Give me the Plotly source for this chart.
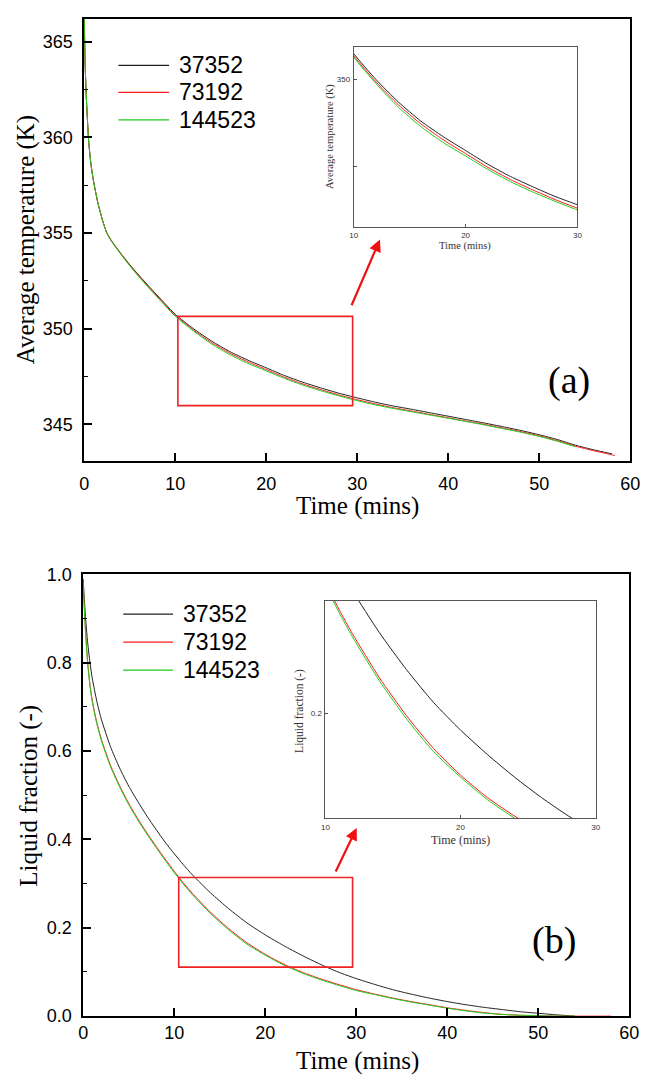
import plotly.graph_objects as go

# ---------------- data ----------------
series_names = ["37352", "73192", "144523"]
series_colors = ["#222222", "#ff1a1a", "#1fcc1f"]

# (a) average temperature (K) vs time (mins)
time_temp_37352 = [0, 0.1, 0.25, 0.5, 0.75, 1, 1.5, 2, 2.5, 3, 4, 5, 6, 7, 8, 9, 10, 12, 14, 16, 18, 20,
                   22, 24, 26, 28, 30, 32, 34, 36, 38, 40, 42, 44, 46, 48, 50, 52, 54, 56, 58]
temp_37352 = [367.0, 364.0, 362.0, 359.8, 358.6, 357.8, 356.6, 355.7, 355.0, 354.6, 353.95, 353.35, 352.8,
              352.27, 351.76, 351.25, 350.75, 350.0, 349.35, 348.8, 348.35, 347.95, 347.55, 347.2, 346.9,
              346.62, 346.38, 346.15, 345.95, 345.78, 345.6, 345.42, 345.24, 345.06, 344.87, 344.67, 344.45,
              344.2, 343.9, 343.66, 343.45]
time_temp_73192 = [0, 0.1, 0.25, 0.5, 0.75, 1, 1.5, 2, 2.5, 3, 4, 5, 6, 7, 8, 9, 10, 12, 14, 16, 18, 20,
                   22, 24, 26, 28, 30, 32, 34, 36, 38, 40, 42, 44, 46, 48, 50, 52, 54, 56, 58, 58.3]
temp_73192 = [367.0, 364.0, 362.0, 359.8, 358.6, 357.8, 356.6, 355.7, 354.99, 354.58, 353.93, 353.32, 352.76,
              352.22, 351.71, 351.19, 350.69, 349.93, 349.27, 348.72, 348.26, 347.86, 347.46, 347.11, 346.81,
              346.53, 346.28, 346.06, 345.86, 345.69, 345.51, 345.34, 345.16, 344.99, 344.8, 344.61, 344.39,
              344.14, 343.85, 343.61, 343.4, 343.36]
time_temp_144523 = [0, 0.1, 0.25, 0.5, 0.75, 1, 1.5, 2, 2.5, 3, 4, 5, 6, 7, 8, 9, 10, 12, 14, 16, 18, 20,
                    22, 24, 26, 28, 30, 32, 34, 36, 38, 40, 42, 44, 46, 48, 50, 52, 54]
temp_144523 = [367.0, 364.0, 362.0, 359.8, 358.6, 357.8, 356.6, 355.7, 354.98, 354.57, 353.91, 353.29, 352.72,
               352.18, 351.66, 351.14, 350.65, 349.88, 349.2, 348.64, 348.18, 347.79, 347.4, 347.05, 346.75,
               346.48, 346.23, 346.01, 345.82, 345.65, 345.48, 345.31, 345.14, 344.96, 344.77, 344.58, 344.36,
               344.11, 343.82]

# (b) liquid fraction (-) vs time (mins)
time_lf_37352 = [0, 0.25, 0.5, 0.75, 1, 1.5, 2, 3, 4, 5, 6, 7, 8, 9, 10, 11, 12, 14, 16, 18, 20, 22, 24, 26,
                 28, 30, 32, 34, 36, 38, 40, 42, 44, 46, 48, 50, 52, 54]
lf_37352 = [0.99, 0.905, 0.845, 0.8, 0.765, 0.713, 0.672, 0.61, 0.562, 0.521, 0.486, 0.453, 0.423, 0.394,
            0.368, 0.343, 0.32, 0.279, 0.243, 0.211, 0.184, 0.16, 0.138, 0.118, 0.1, 0.085, 0.072, 0.06,
            0.05, 0.041, 0.033, 0.026, 0.02, 0.015, 0.01, 0.0065, 0.003, 0.0]
time_lf_73192 = [0, 0.25, 0.5, 0.75, 1, 1.5, 2, 3, 4, 5, 6, 7, 8, 9, 10, 11, 12, 14, 16, 18, 20, 22, 24, 26,
                 28, 30, 32, 34, 36, 38, 40, 42, 44, 46, 48, 50, 52, 54, 56, 58]
lf_73192 = [0.98, 0.875, 0.8, 0.75, 0.715, 0.665, 0.627, 0.568, 0.522, 0.482, 0.447, 0.415, 0.385, 0.356,
            0.328, 0.302, 0.278, 0.235, 0.198, 0.166, 0.14, 0.118, 0.1, 0.085, 0.072, 0.06, 0.05, 0.041,
            0.033, 0.026, 0.019, 0.013, 0.008, 0.004, 0.002, 0.001, 0.0, 0.0, 0.0, 0.0]
time_lf_144523 = [0, 0.25, 0.5, 0.75, 1, 1.5, 2, 3, 4, 5, 6, 7, 8, 9, 10, 11, 12, 14, 16, 18, 20, 22, 24, 26,
                  28, 30, 32, 34, 36, 38, 40, 42, 44, 46, 48, 50, 52, 54]
lf_144523 = [0.98, 0.873, 0.798, 0.748, 0.712, 0.662, 0.624, 0.565, 0.519, 0.479, 0.444, 0.412, 0.382, 0.353,
             0.325, 0.299, 0.275, 0.232, 0.195, 0.163, 0.138, 0.116, 0.098, 0.083, 0.07, 0.058, 0.049, 0.04,
             0.032, 0.025, 0.018, 0.012, 0.007, 0.004, 0.002, 0.001, 0.0, 0.0]

time_ticks = [0, 10, 20, 30, 40, 50, 60]
zoom_window_a = {"x": [10.3, 29.5], "y": [345.97, 350.64]}
zoom_window_b = {"x": [10.5, 29.6], "y": [0.111, 0.314]}

# ---------------- figure ----------------
W, H = 650, 1087


def px(x, y):
    return x / W, 1 - y / H


fig = go.Figure()

temp_sets = [(time_temp_37352, temp_37352), (time_temp_73192, temp_73192), (time_temp_144523, temp_144523)]
lf_sets = [(time_lf_37352, lf_37352), (time_lf_73192, lf_73192), (time_lf_144523, lf_144523)]

for (t, v), name, col in zip(temp_sets, series_names, series_colors):
    for xa, ya in (("x", "y"), ("x3", "y3")):
        fig.add_trace(go.Scatter(x=t, y=v, mode="lines", name=name,
                                 line=dict(color=col, width=1, shape="spline", smoothing=0.6),
                                 xaxis=xa, yaxis=ya, showlegend=False))
for (t, v), name, col in zip(lf_sets, series_names, series_colors):
    for xa, ya in (("x2", "y2"), ("x4", "y4")):
        fig.add_trace(go.Scatter(x=t, y=v, mode="lines", name=name,
                                 line=dict(color=col, width=1, shape="spline", smoothing=0.6),
                                 xaxis=xa, yaxis=ya, showlegend=False))

TICKFONT = dict(family="Liberation Sans, Arial", size=18, color="black")
SERIF = "Liberation Serif, Times New Roman"


def main_x(domain, anchor, standoff):
    return dict(domain=domain, anchor=anchor, range=[0, 60], tickvals=time_ticks, ticks="inside", ticklen=8,
                tickwidth=1.5, tickcolor="black", showline=True, linewidth=1.5, linecolor="black", mirror=True,
                showgrid=False, zeroline=False, tickfont=TICKFONT, ticklabelstandoff=standoff)


def main_y(domain, anchor, rng, tick0, dtick, mdtick, fmt=None):
    d = dict(domain=domain, anchor=anchor, range=rng, tick0=tick0, dtick=dtick, ticks="inside", ticklen=8,
             tickwidth=1.5, tickcolor="black", showline=True, linewidth=1.5, linecolor="black", mirror=True,
             showgrid=False, zeroline=False, tickfont=TICKFONT, ticklabelstandoff=6,
             minor=dict(dtick=mdtick, tick0=tick0, ticks="inside", ticklen=4, tickwidth=1.2, tickcolor="black"))
    if fmt:
        d["tickformat"] = fmt
    return d


INSET_FONT = dict(family="Liberation Sans, Arial", size=8, color="#333")


def inset_x(domain, anchor):
    return dict(domain=domain, anchor=anchor, range=[10, 30], dtick=10, ticks="inside", ticklen=3,
                tickwidth=1, tickcolor="#555", showline=True, linewidth=1, linecolor="#555", mirror=True,
                showgrid=False, zeroline=False, tickfont=INSET_FONT, ticklabelstandoff=1)


def inset_y(domain, anchor, rng, tick0, dtick, mdtick=None, fmt=None):
    d = dict(domain=domain, anchor=anchor, range=rng, tick0=tick0, dtick=dtick, ticks="inside", ticklen=3,
             tickwidth=1, tickcolor="#555", showline=True, linewidth=1, linecolor="#555", mirror=True,
             showgrid=False, zeroline=False, tickfont=INSET_FONT, ticklabelstandoff=1)
    if mdtick:
        d["minor"] = dict(dtick=mdtick, tick0=tick0, ticks="inside", ticklen=3, tickwidth=1, tickcolor="#555")
    if fmt:
        d["tickformat"] = fmt
    return d


fig.update_layout(
    width=W, height=H, autosize=False, margin=dict(l=0, r=0, t=0, b=0),
    paper_bgcolor="white", plot_bgcolor="white", showlegend=False,
    xaxis=main_x([81 / W, 640 / W], "y", 6),
    yaxis=main_y([1 - 459 / H, 1 - 9 / H], "x", [343.1, 366.2], 345, 5, 2.5),
    xaxis2=main_x([80 / W, 639 / W], "y2", 0),
    yaxis2=main_y([1 - 1025 / H, 1 - 575 / H], "x2", [0, 1], 0, 0.2, 0.1, ".1f"),
    xaxis3=inset_x([357 / W, 586 / W], "y3"),
    yaxis3=inset_y([1 - 220.6 / H, 1 - 37.5 / H], "x3", [345.75, 350.95], 345, 5, 2.5),
    xaxis4=inset_x([328 / W, 604.6 / W], "y4"),
    yaxis4=inset_y([1 - 823.3 / H, 1 - 602.1 / H], "x4", [0.098, 0.31], 0, 0.2, None, ".1f"),
)

# zoom rectangles
for win, xr, yr in ((zoom_window_a, "x", "y"), (zoom_window_b, "x2", "y2")):
    fig.add_shape(type="rect", xref=xr, yref=yr, x0=win["x"][0], x1=win["x"][1], y0=win["y"][0],
                  y1=win["y"][1], line=dict(color="#ee2222", width=1.6))

ann = []


def text(x, y, s, size, family=SERIF, angle=0, xanchor="center", color="black"):
    xx, yy = px(x, y)
    ann.append(dict(x=xx, y=yy, xref="paper", yref="paper", text=s, showarrow=False, textangle=angle,
                    xanchor=xanchor, yanchor="middle", font=dict(family=family, size=size, color=color)))


# axis titles
text(21, 234, "Average temperature (K)", 25, angle=-90)
text(361, 505, "Time (mins)", 25)
text(25, 800, "Liquid fraction (-)", 25, angle=-90)
text(361, 1071, "Time (mins)", 25)
# inset titles
text(332, 129, "Average temperature (K)", 10.5, angle=-90, color="#333")
text(471, 240, "Time (mins)", 10.5, color="#333")
text(302, 714, "Liquid fraction (-)", 11.5, angle=-90, color="#333")
text(466, 846, "Time (mins)", 12, color="#333")
# panel labels
text(577, 377, "(a)", 38)
text(562, 948, "(b)", 38)

# legends (drawn manually)
for x0, x1, xt, rows in ((116, 168, 176, (56.5, 84, 112)), (121, 172, 180, (615.5, 644, 672.5))):
    for name, col, ry in zip(series_names, series_colors, rows):
        a0 = px(x0, ry)
        a1 = px(x1, ry)
        fig.add_shape(type="line", xref="paper", yref="paper", x0=a0[0], x1=a1[0], y0=a0[1], y1=a1[1],
                      line=dict(color=col, width=1.2))
        text(xt, ry, name, 23, family="Liberation Sans, Arial", xanchor="left")

# arrows
for head, tail in (((383.8, 233.8), (354.8, 301)), ((360, 833.3), (338.3, 878.3))):
    hx, hy = px(*head)
    ann.append(dict(x=hx, y=hy, xref="paper", yref="paper", text="", showarrow=True, ax=tail[0] - head[0],
                    ay=tail[1] - head[1], arrowhead=2, arrowsize=1.1, arrowwidth=2.2, arrowcolor="#ee1111"))

fig.update_layout(annotations=ann)
fig.write_html("out.html")
